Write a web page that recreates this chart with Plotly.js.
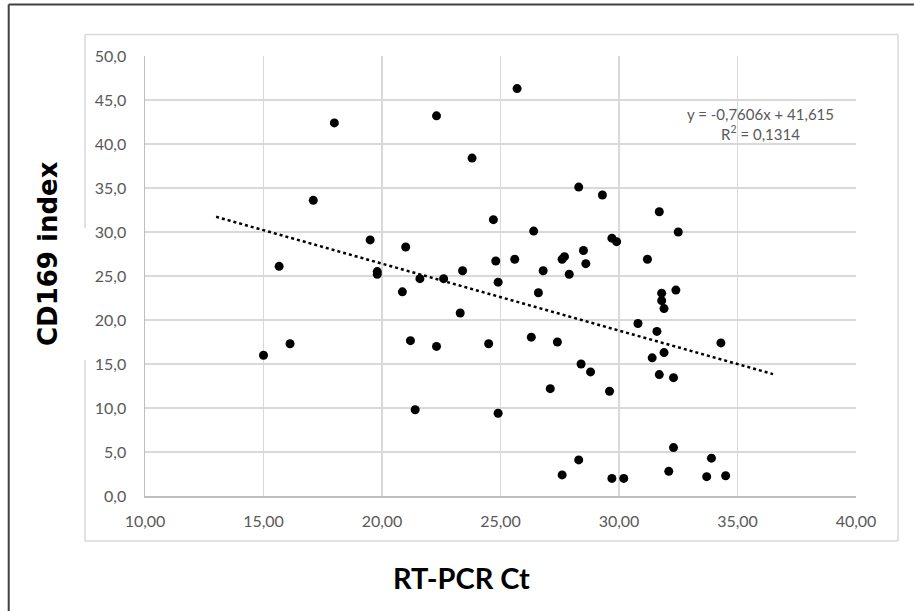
<!DOCTYPE html>
<html>
<head>
<meta charset="utf-8">
<script src="https://cdn.plot.ly/plotly-3.0.1.min.js"></script>
<style>
  html, body { margin: 0; padding: 0; background: #ffffff; }
  #chart { width: 914px; height: 611px; }
</style>
</head>
<body>
<div id="chart"></div>
<script>
// RT-PCR Ct values (x) and CD169 index values (y)
const ctValues = [15.0, 15.66, 16.12, 17.1, 17.99, 19.5, 19.8, 19.8, 20.86, 21.0, 21.2, 21.4, 21.6, 22.3, 22.3, 22.6, 23.3, 23.4, 23.8, 24.5, 24.7, 24.8, 24.9, 24.9, 25.7, 25.6, 26.3, 26.4, 26.6, 26.8, 27.1, 27.4, 27.6, 27.6, 27.7, 27.9, 28.3, 28.3, 28.4, 28.5, 28.6, 28.8, 29.3, 29.6, 29.7, 29.9, 29.7, 30.2, 30.8, 31.2, 31.4, 31.6, 31.7, 31.7, 31.8, 31.8, 31.9, 31.9, 32.1, 32.3, 32.3, 32.4, 32.5, 33.7, 33.9, 34.3, 34.5];
const cd169Index = [16.0, 26.1, 17.3, 33.6, 42.4, 29.1, 25.5, 25.2, 23.2, 28.3, 17.65, 9.8, 24.7, 43.2, 17.0, 24.7, 20.8, 25.6, 38.4, 17.3, 31.4, 26.7, 24.3, 9.4, 46.3, 26.9, 18.05, 30.1, 23.1, 25.6, 12.2, 17.5, 2.4, 26.9, 27.2, 25.2, 35.1, 4.1, 15.0, 27.9, 26.4, 14.1, 34.2, 11.9, 29.3, 28.9, 2.0, 2.0, 19.6, 26.9, 15.7, 18.7, 32.3, 13.8, 23.05, 22.2, 21.3, 16.3, 2.8, 5.5, 13.45, 23.4, 30.0, 2.2, 4.3, 17.4, 2.3];

// Linear trendline (as printed on chart)
const trendSlope = -0.7606;
const trendIntercept = 41.615;
const trendRange = [13.0, 36.5];
const equationText = "y = -0,7606x + 41,615";
const r2Text = "R<sup>2</sup> = 0,1314";

// Axis ticks and titles
const xTicks = [10, 15, 20, 25, 30, 35, 40];
const yTicks = [0, 5, 10, 15, 20, 25, 30, 35, 40, 45, 50];
const xTitle = "RT-PCR Ct";
const yTitle = "CD169 index";

const trendX = trendRange.slice();
const trendY = trendX.map(v => trendSlope * v + trendIntercept);

const tickFont = { family: "Lato, 'Open Sans', sans-serif", size: 16, color: "#595959" };

const data = [
  {
    x: ctValues, y: cd169Index, type: "scatter", mode: "markers",
    marker: { color: "#000000", size: 9 },
    hoverinfo: "x+y", showlegend: false
  },
  {
    x: trendX, y: trendY, type: "scatter", mode: "lines",
    line: { color: "#000000", width: 2.5, dash: "dot" },
    hoverinfo: "skip", showlegend: false
  }
];

// helper: pixel -> paper conversions (plot area 145..856 x, 56..496 y)
const L = 145, R = 856, T = 56, B = 496;
const px = v => (v - L) / (R - L);
const py = v => (B - v) / (B - T);

const borderLight = { color: "#d9d9d9", width: 1.5 };
const borderDark = { color: "#404040", width: 2 };

const shapes = [
  // outer dark frame (top & left)
  { type: "line", xref: "paper", yref: "paper", x0: px(8.7), x1: px(930), y0: py(4.5), y1: py(4.5), line: borderDark },
  { type: "line", xref: "paper", yref: "paper", x0: px(8.7), x1: px(8.7), y0: py(4.5), y1: py(630), line: borderDark },
  // chart area light frame
  { type: "line", xref: "paper", yref: "paper", x0: px(85), x1: px(898), y0: py(34.5), y1: py(34.5), line: borderLight },
  { type: "line", xref: "paper", yref: "paper", x0: px(898), x1: px(898), y0: py(34.5), y1: py(541), line: borderLight },
  { type: "line", xref: "paper", yref: "paper", x0: px(85), x1: px(898), y0: py(541), y1: py(541), line: borderLight },
  { type: "line", xref: "paper", yref: "paper", x0: px(85), x1: px(85), y0: py(34.5), y1: py(228), line: borderLight },
  { type: "line", xref: "paper", yref: "paper", x0: px(85), x1: px(85), y0: py(360), y1: py(541), line: borderLight }
];

const layout = {
  width: 914, height: 611,
  margin: { l: L, r: 914 - R, t: T, b: 611 - B, pad: 0 },
  paper_bgcolor: "#ffffff", plot_bgcolor: "#ffffff",
  separators: ",.",
  showlegend: false,
  xaxis: {
    range: [10, 40], tickvals: xTicks, tickformat: ".2f",
    showgrid: true, gridcolor: "#d9d9d9", gridwidth: 1.3,
    zeroline: false, showline: true, linecolor: "#bfbfbf", linewidth: 1.5,
    ticks: "outside", ticklen: 10, tickcolor: "rgba(0,0,0,0)",
    tickfont: tickFont
  },
  yaxis: {
    range: [0, 50], tickvals: yTicks, tickformat: ".1f",
    showgrid: true, gridcolor: "#d9d9d9", gridwidth: 1.3,
    zeroline: false, showline: true, linecolor: "#bfbfbf", linewidth: 1.5,
    ticks: "outside", ticklen: 14, tickcolor: "rgba(0,0,0,0)",
    tickfont: tickFont
  },
  shapes: shapes,
  annotations: [
    {
      xref: "paper", yref: "paper", x: px(760), y: py(123.5),
      xanchor: "center", yanchor: "middle", align: "center", showarrow: false,
      text: equationText + "<br>" + r2Text,
      font: { family: "Lato, 'Open Sans', sans-serif", size: 15, color: "#595959" }
    },
    {
      xref: "paper", yref: "paper", x: px(461), y: py(577),
      xanchor: "center", yanchor: "middle", showarrow: false,
      text: xTitle,
      font: { family: "Lato, 'Open Sans', sans-serif", size: 29, color: "#000000", weight: "bold" }
    },
    {
      xref: "paper", yref: "paper", x: px(48), y: py(254),
      xanchor: "center", yanchor: "middle", showarrow: false, textangle: -90,
      text: yTitle,
      font: { family: "'DejaVu Sans', Verdana, sans-serif", size: 26, color: "#000000", weight: "bold" }
    }
  ]
};

Plotly.newPlot("chart", data, layout, { displayModeBar: false, staticPlot: true });
</script>
</body>
</html>
